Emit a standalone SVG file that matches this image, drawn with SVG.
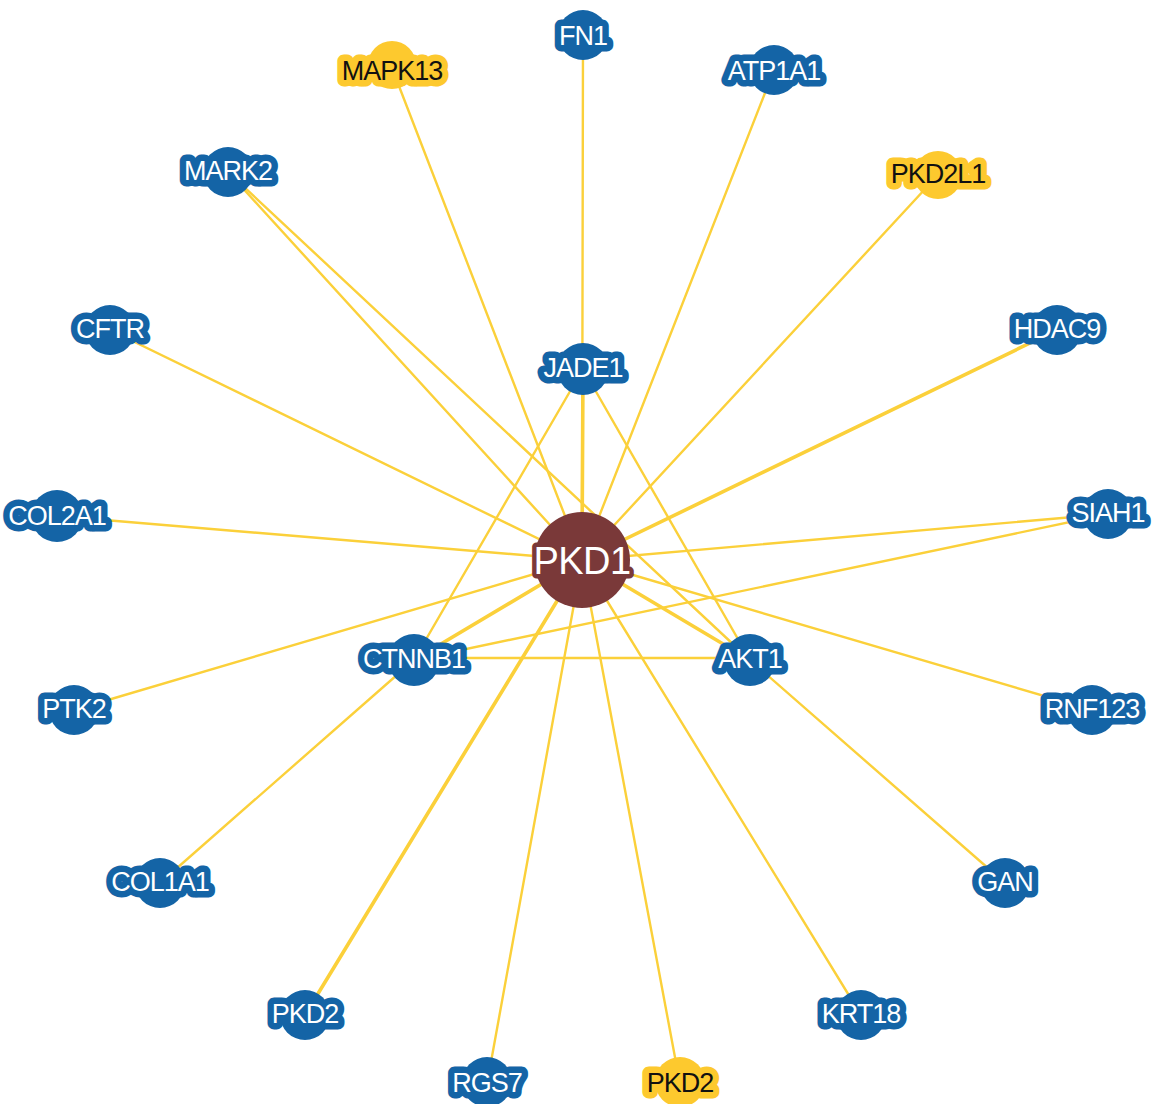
<svg xmlns="http://www.w3.org/2000/svg" width="1159" height="1104" viewBox="0 0 1159 1104">
  <style>
    .edge { stroke: #fbd03a; stroke-width: 2.4; stroke-linecap: round; fill: none; }
    .edge.w { stroke-width: 3.6; }
    .node circle { stroke: none; }
    .node text { font-family: "Liberation Sans", Arial, sans-serif; font-size: 27px; text-anchor: middle; letter-spacing: -1px; stroke-width: 13px; stroke-linejoin: round; paint-order: stroke fill; }
    .blue circle { fill: #1464a6; }
    .blue text { fill: #ffffff; stroke: #1464a6; }
    .gold circle { fill: #fdc92e; }
    .gold text { fill: #111111; stroke: #fdc92e; }
    .hub circle { fill: #7a3939; }
    .hub text { fill: #ffffff; stroke: #7a3939; font-size: 38px; letter-spacing: -0.6px; stroke-width: 9px; }
  </style>

  <g id="edges">
    <line class="edge" x1="583" y1="35" x2="582" y2="560"/>
    <line class="edge w" x1="583" y1="369" x2="582" y2="560"/>
    <line class="edge" x1="392" y1="68" x2="582" y2="560"/>
    <line class="edge" x1="774" y1="70" x2="582" y2="560"/>
    <line class="edge" x1="228" y1="172" x2="582" y2="560"/>
    <line class="edge" x1="228" y1="172" x2="750" y2="660"/>
    <line class="edge" x1="938" y1="175" x2="582" y2="560"/>
    <line class="edge w" x1="1057" y1="330" x2="582" y2="560"/>
    <line class="edge" x1="110" y1="330" x2="582" y2="560"/>
    <line class="edge" x1="57" y1="516" x2="582" y2="560"/>
    <line class="edge" x1="1108" y1="514" x2="582" y2="560"/>
    <line class="edge" x1="1108" y1="514" x2="414" y2="660"/>
    <line class="edge" x1="74" y1="710" x2="582" y2="560"/>
    <line class="edge" x1="1092" y1="710" x2="582" y2="560"/>
    <line class="edge" x1="414" y1="660" x2="160" y2="883"/>
    <line class="edge" x1="750" y1="660" x2="1005" y2="883"/>
    <line class="edge w" x1="305" y1="1015" x2="582" y2="560"/>
    <line class="edge" x1="487" y1="1084" x2="582" y2="560"/>
    <line class="edge" x1="680" y1="1084" x2="582" y2="560"/>
    <line class="edge" x1="861" y1="1015" x2="582" y2="560"/>
    <line class="edge" x1="583" y1="369" x2="414" y2="660"/>
    <line class="edge" x1="583" y1="369" x2="750" y2="660"/>
    <line class="edge" x1="414" y1="658" x2="750" y2="658"/>
    <line class="edge w" x1="414" y1="660" x2="582" y2="560"/>
    <line class="edge w" x1="750" y1="660" x2="582" y2="560"/>
  </g>

  <g id="node-FN1" class="node blue"><circle cx="583" cy="35" r="25"/><text x="583" y="45">FN1</text></g>
  <g id="node-MAPK13" class="node gold"><circle cx="392" cy="65" r="24"/><text x="392" y="80">MAPK13</text></g>
  <g id="node-ATP1A1" class="node blue"><circle cx="774" cy="70" r="25"/><text x="774" y="80">ATP1A1</text></g>
  <g id="node-MARK2" class="node blue"><circle cx="228" cy="172" r="25"/><text x="228" y="180">MARK2</text></g>
  <g id="node-PKD2L1" class="node gold"><circle cx="938" cy="175" r="24"/><text x="938" y="183">PKD2L1</text></g>
  <g id="node-CFTR" class="node blue"><circle cx="110" cy="330" r="25"/><text x="110" y="338">CFTR</text></g>
  <g id="node-HDAC9" class="node blue"><circle cx="1057" cy="330" r="25"/><text x="1057" y="338">HDAC9</text></g>
  <g id="node-JADE1" class="node blue"><circle cx="583" cy="369" r="26"/><text x="583" y="377">JADE1</text></g>
  <g id="node-COL2A1" class="node blue"><circle cx="57" cy="516" r="26"/><text x="57" y="525">COL2A1</text></g>
  <g id="node-SIAH1" class="node blue"><circle cx="1108" cy="514" r="25"/><text x="1108" y="522">SIAH1</text></g>
  <g id="node-CTNNB1" class="node blue"><circle cx="414" cy="660" r="26"/><text x="414" y="668">CTNNB1</text></g>
  <g id="node-AKT1" class="node blue"><circle cx="750" cy="660" r="26"/><text x="750" y="668">AKT1</text></g>
  <g id="node-PTK2" class="node blue"><circle cx="74" cy="710" r="25"/><text x="74" y="718">PTK2</text></g>
  <g id="node-RNF123" class="node blue"><circle cx="1092" cy="710" r="25"/><text x="1092" y="718">RNF123</text></g>
  <g id="node-COL1A1" class="node blue"><circle cx="160" cy="883" r="25"/><text x="160" y="891">COL1A1</text></g>
  <g id="node-GAN" class="node blue"><circle cx="1005" cy="883" r="25"/><text x="1005" y="891">GAN</text></g>
  <g id="node-PKD2-a" class="node blue"><circle cx="305" cy="1015" r="25"/><text x="305" y="1023">PKD2</text></g>
  <g id="node-KRT18" class="node blue"><circle cx="861" cy="1015" r="25"/><text x="861" y="1023">KRT18</text></g>
  <g id="node-RGS7" class="node blue"><circle cx="487" cy="1082" r="25"/><text x="487" y="1092">RGS7</text></g>
  <g id="node-PKD2-b" class="node gold"><circle cx="680" cy="1082" r="25"/><text x="680" y="1092">PKD2</text></g>
  <g id="node-PKD1" class="node hub"><circle cx="582" cy="560" r="48"/><text x="582" y="574">PKD1</text></g>
</svg>
